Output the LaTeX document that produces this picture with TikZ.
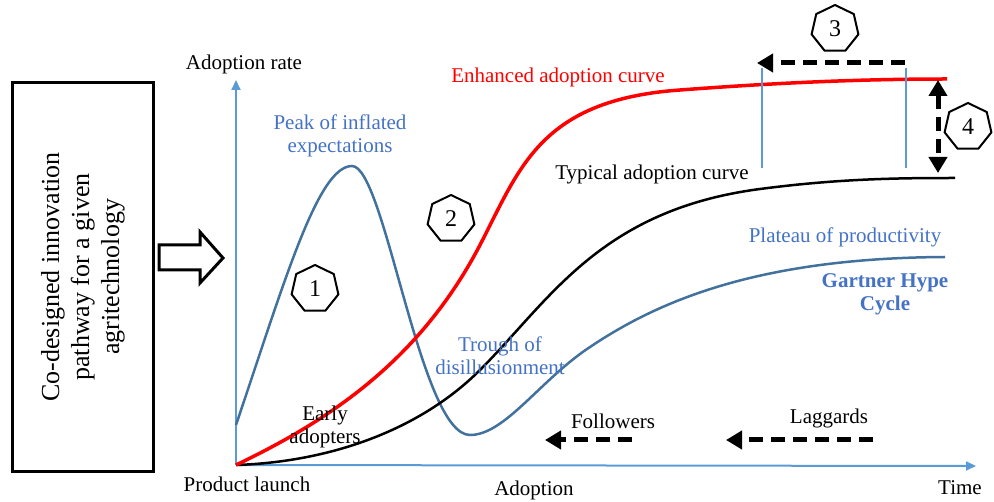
\documentclass[tikz,border=0pt]{standalone}
\usepackage{fontspec}
\setmainfont{Liberation Serif}
\usetikzlibrary{arrows.meta,shapes.geometric}
\definecolor{axisblue}{HTML}{5B9BD5}
\definecolor{hypeblue}{HTML}{41719C}
\definecolor{labelblue}{HTML}{4472C4}

\begin{document}
\begin{tikzpicture}
    [x=1pt,y=-1pt,font=\fontsize{21}{23}\selectfont,
        axis line/.style={axisblue,line width=2pt,-{Triangle[length=10pt,width=9pt]}},
        num node/.style={regular polygon,regular polygon sides=7,draw,line width=2pt,minimum size=48pt,inner sep=0pt,
            font=\fontsize{24}{24}\selectfont},
        shift arrow/.style={line width=5pt,dash pattern=on 14pt off 8pt,-{Triangle[length=16pt,width=18pt]}},
        blue label/.style={text=labelblue,align=center}]

    \useasboundingbox (0,0) rectangle (994,502);

    % pathway box and block arrow
    \node[draw,line width=3pt,rotate=90,minimum width=389pt,minimum height=141pt,align=center,
        font=\fontsize{26}{30}\selectfont] (box) at (83,277) {Co-designed innovation\\pathway for a given\\agritechnology};
    \draw[line width=3pt] (159,245) -- (200,245) -- (200,232) -- (223,258) -- (200,283) -- (200,270) -- (159,270) -- cycle;

    % axes
    \coordinate (origin) at (236,465);
    \coordinate (ytop) at (236,80);
    \coordinate (xend) at (976,466);
    \draw[axis line] (origin) -- (ytop);
    \draw[axis line] (origin) -- (xend);
    \node (yl) at (244,64) {Adoption rate};
    \node (launch) at (247,484) {Product launch};
    \node (adopt) at (534,490) {Adoption};
    \node (time) at (960,488) {Time};

    % gartner hype cycle
    \draw[hypeblue,line width=2.5pt] (236,425) .. controls (285,280) and (318,166) .. (352,166)
        .. controls (385,166) and (420,435) .. (470,435)
        .. controls (505,435) and (540,380) .. (590,347)
        .. controls (660,300) and (760,258) .. (945,257);

    % typical adoption curve
    \draw[line width=2.5pt] (origin) .. controls (330,462) and (420,430) .. (480,370)
        .. controls (550,300) and (600,210) .. (760,189)
        .. controls (840,178.5) and (900,178) .. (955,178);

    % enhanced adoption curve
    \draw[red,line width=3.5pt] (origin) .. controls (330,420) and (420,360) .. (480,245)
        .. controls (520,168) and (540,100) .. (680,90)
        .. controls (760,84) and (850,79) .. (947,79);

    % labels on the curves
    \node[text=red] (enh) at (558,77) {Enhanced adoption curve};
    \node[blue label] (peak) at (340,136) {Peak of inflated\\expectations};
    \node (typ) at (652,174) {Typical adoption curve};
    \node[blue label] (plat) at (845,237) {Plateau of productivity};
    \node[blue label,font=\fontsize{21}{23}\selectfont\bfseries] (gartner) at (885,294) {Gartner Hype\\Cycle};
    \node[blue label] (trough) at (500,356) {Trough of\\disillusionment};
    \node[align=center] (early) at (325,427) {Early\\adopters};
    \node (follow) at (613,421) {Followers};
    \node (lag) at (829,418) {Laggards};

    % numbered steps
    \node[num node] (n1) at (315,289) {1};
    \node[num node] (n2) at (451,219) {2};
    \node[num node] (n3) at (835,29) {3};
    \node[num node] (n4) at (968,127) {4};

    % shifts
    \coordinate (fa) at (632,440);
    \coordinate (fb) at (545,440);
    \coordinate (la) at (873,440);
    \coordinate (lb) at (726,440);
    \coordinate (ta) at (905,63);
    \coordinate (tb) at (757,63);
    \coordinate (ua) at (938,80);
    \coordinate (ub) at (938,173);
    \draw[shift arrow] (fa) -- (fb);
    \draw[shift arrow] (la) -- (lb);
    \draw[shift arrow] (ta) -- (tb);
    \draw[shift arrow,{Triangle[length=16pt,width=18pt]}-{Triangle[length=16pt,width=18pt]}] (ua) -- (ub);
    \draw[axisblue,line width=1.5pt] (762,68) -- (762,168);
    \draw[axisblue,line width=1.5pt] (906,68) -- (906,168);
\end{tikzpicture}
\end{document}
